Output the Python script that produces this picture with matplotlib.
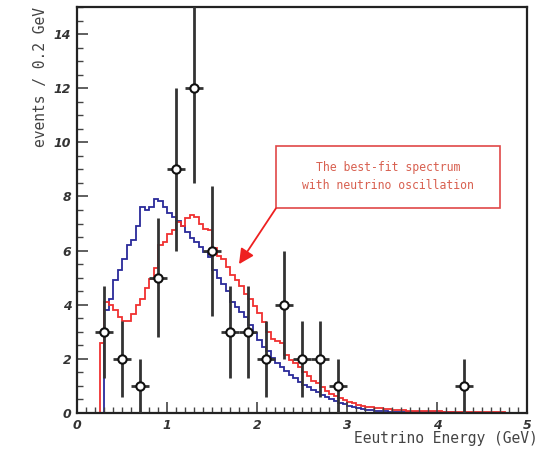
import matplotlib
matplotlib.use('Agg')
import matplotlib.pyplot as plt
from matplotlib.patches import Rectangle
from matplotlib.ticker import MultipleLocator
import numpy as np

# data points (0.2 GeV bins)
energy = [0.3, 0.5, 0.7, 0.9, 1.1, 1.3, 1.5, 1.7, 1.9, 2.1, 2.3, 2.5, 2.7, 2.9, 4.3]
events = [3, 2, 1, 5, 9, 12, 6, 3, 3, 2, 4, 2, 2, 1, 1]
errors = [1.7, 1.4, 1.0, 2.2, 3.0, 3.5, 2.4, 1.7, 1.7, 1.4, 2.0, 1.4, 1.4, 1.0, 1.0]

# expected spectra, 0.05 GeV bins
bin_w = 0.05
red_start = 0.25
red_vals = [2.6, 4.1, 4.0, 3.8, 3.55, 3.4, 3.4, 3.65, 4.0, 4.2,
            4.6, 4.95, 5.35, 6.2, 6.3, 6.6, 6.75, 7.05, 6.9, 7.2,
            7.3, 7.25, 7.0, 6.8, 6.75, 6.1, 5.8, 5.7, 5.4, 5.1,
            4.9, 4.7, 4.4, 4.2, 3.95, 3.7, 3.35, 3.0, 2.75, 2.65,
            2.6, 2.15, 1.95, 1.85, 1.7, 1.5, 1.35, 1.2, 1.1, 0.95,
            0.82, 0.72, 0.62, 0.55, 0.48, 0.42, 0.36, 0.31, 0.27, 0.24,
            0.21, 0.19, 0.17, 0.15, 0.14, 0.12, 0.11, 0.10, 0.09, 0.09,
            0.08, 0.08, 0.07, 0.07, 0.06, 0.06, 0.05, 0.05, 0.05, 0.04,
            0.04, 0.04, 0.04, 0.03, 0.03, 0.03, 0.03, 0.03, 0.02, 0.02]
blue_start = 0.30
blue_vals = [3.8, 4.2, 4.9, 5.3, 5.7, 6.2, 6.4, 6.9, 7.6, 7.5,
             7.6, 7.9, 7.85, 7.6, 7.4, 7.25, 7.1, 6.9, 6.7, 6.45,
             6.3, 6.15, 5.95, 5.75, 5.3, 5.0, 4.75, 4.5, 4.1, 3.9,
             3.75, 3.55, 3.25, 2.95, 2.7, 2.45, 2.3, 2.05, 1.85, 1.7,
             1.55, 1.4, 1.28, 1.15, 1.05, 0.95, 0.85, 0.76, 0.66, 0.58,
             0.5, 0.44, 0.38, 0.33, 0.26, 0.21, 0.17, 0.14, 0.12, 0.10,
             0.08, 0.07, 0.06, 0.05, 0.05, 0.04, 0.04, 0.04, 0.03, 0.03,
             0.03, 0.03, 0.02, 0.02, 0.02, 0.02, 0.02, 0.02, 0.01, 0.01,
             0.01, 0.01, 0.01, 0.01, 0.01, 0.01, 0.01, 0.01, 0.01]

red_edges = red_start + bin_w * np.arange(len(red_vals) + 1)
blue_edges = blue_start + bin_w * np.arange(len(blue_vals) + 1)

fig = plt.figure(figsize=(5.4, 4.59), dpi=100)
ax = fig.add_axes([77/540, 46/459, 450/540, 406/459])

ax.stairs(blue_vals, blue_edges, color='#2a2a9a', lw=1.3)
ax.stairs(red_vals, red_edges, color='#f03030', lw=1.3)

ax.errorbar(energy, events, yerr=errors, xerr=0.1, fmt='o', color='#222222',
            ecolor='#333333', elinewidth=2, capsize=0, ms=6,
            mfc='white', mec='#111111', mew=1.5, zorder=5)

ax.set_xlim(0, 5)
ax.set_ylim(0, 15)
ax.xaxis.set_major_locator(MultipleLocator(1))
ax.xaxis.set_minor_locator(MultipleLocator(0.1))
ax.yaxis.set_major_locator(MultipleLocator(2))
ax.yaxis.set_minor_locator(MultipleLocator(0.5))
ax.tick_params(which='both', direction='in', top=False, right=False,
               color='#444444')
ax.tick_params(which='major', length=8, width=1.2, pad=4)
ax.tick_params(which='minor', length=4, width=1)
for lab in ax.get_xticklabels() + ax.get_yticklabels():
    lab.set_fontweight('bold')
    lab.set_fontstyle('italic')
    lab.set_fontsize(9)
    lab.set_color('#333333')
for s in ax.spines.values():
    s.set_linewidth(1.6)
    s.set_color('#222222')

ax.set_xlabel('Eeutrino Energy (GeV)', family='DejaVu Sans Mono', fontsize=10.5,
              color='#444444', loc='right')
ax.xaxis.set_label_coords(1.025, -0.045)
ax.set_ylabel('events / 0.2 GeV', family='DejaVu Sans Mono', fontsize=10.5,
              color='#444444', loc='top')
ax.yaxis.set_label_coords(-0.065, 1.0)

# annotation box
ax.add_patch(Rectangle((2.21, 7.56), 2.49, 2.29, fill=False,
                       edgecolor='#e04848', lw=1.2, zorder=6))
ax.text(3.455, 8.72, 'The best-fit spectrum\nwith neutrino oscillation',
        ha='center', va='center', family='DejaVu Sans Mono', fontsize=8.3,
        color='#d86050', linespacing=1.5, zorder=6)
ax.annotate('', xy=(1.8, 5.5), xytext=(2.21, 7.56),
            arrowprops=dict(arrowstyle='-|>,head_length=0.9,head_width=0.45',
                            color='#ee2020', lw=1.3, shrinkA=0, shrinkB=0),
            zorder=6)

fig.savefig('out.png', dpi=100)
